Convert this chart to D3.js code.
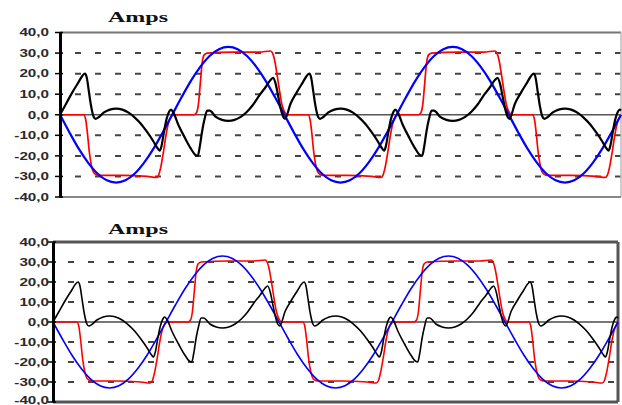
<!DOCTYPE html>
<html><head><meta charset="utf-8">
<script src="https://cdn.jsdelivr.net/npm/d3@7"></script>
<style>html,body{margin:0;padding:0;background:#fff;overflow:hidden}</style>
</head><body><svg id="c" width="622" height="405"></svg>
<script>
// ---- data (time in electrical degrees, current in amps) ----
const chartTitle = "Amps";
const yTicks = [40, 30, 20, 10, 0, -10, -20, -30, -40];
const tickLabels = ["40,0", "30,0", "20,0", "10,0", "0,0", "-10,0", "-20,0", "-30,0", "-40,0"];

const blueDeg = [0,15,30,45,60,75,90,105,120,135,150,165,180,195,210,225,240,255,270,285,300,315,330,345,
  360,375,390,405,420,435,450,465,480,495,510,525,540,555,570,585,600,615,630,645,660,675,690,705,
  720,735,750,765,780,795,810,825,840,855,870,885,900];
const blueAmps = [0,-8.5,-16.5,-23.3,-28.6,-31.9,-33,-31.9,-28.6,-23.3,-16.5,-8.5,0,8.5,16.5,23.3,28.6,31.9,33,31.9,28.6,23.3,16.5,8.5,
  0,-8.5,-16.5,-23.3,-28.6,-31.9,-33,-31.9,-28.6,-23.3,-16.5,-8.5,0,8.5,16.5,23.3,28.6,31.9,33,31.9,28.6,23.3,16.5,8.5,
  0,-8.5,-16.5,-23.3,-28.6,-31.9,-33,-31.9,-28.6,-23.3,-16.5,-8.5,0];

const redDeg = [0,38,41,44,47,50,53,57,62,100,140,155,158,162,166,170,174,178,183,215,219,222,225,228,231,236,280,320,338,341,344,348,352,356,360,365,
  398,401,404,407,410,413,417,422,460,500,515,518,522,526,530,534,538,543,575,579,582,585,588,591,596,640,680,698,701,704,708,712,716,720,725,
  758,761,764,767,770,773,777,782,820,860,875,878,882,886,890,894,898,900];
const redAmps = [0,0,-2,-9,-18,-24,-27.5,-29,-29.5,-29.5,-30,-30.5,-29.5,-25,-18,-10,-4,-1,0,0,1,5,15,25,29,30,30.5,30.5,31,30,27,20,12,5,1.5,0,
  0,-2,-9,-18,-24,-27.5,-29,-29.5,-29.5,-30,-30.5,-29.5,-25,-18,-10,-4,-1,0,0,1,5,15,25,29,30,30.5,30.5,31,30,27,20,12,5,1.5,0,
  0,-2,-9,-18,-24,-27.5,-29,-29.5,-29.5,-30,-30.5,-29.5,-25,-18,-10,-4,-1,0];

const blackDeg = [0,10,20,30,36,40,43,46,50,54,57,62,70,80,90,100,110,120,130,140,150,157,160,163,167,171,175,178,
  182,190,200,210,217,221,224,228,232,236,240,250,260,270,280,290,300,310,320,330,338,342,346,350,354,358,361,
  370,380,390,396,400,403,406,410,414,417,422,430,440,450,460,470,480,490,500,510,517,520,523,527,531,535,538,
  542,550,560,570,577,581,584,588,592,596,600,610,620,630,640,650,660,670,680,690,698,702,706,710,714,718,721,
  730,740,750,756,760,763,766,770,774,777,782,790,800,810,820,830,840,850,860,870,877,880,883,887,891,895,898,900];
const blackAmps = [0,5.5,11,16,19,20,18,12,4,-1,-2,-1.2,1,2.5,3,2.5,1,-1.4,-4.5,-8.5,-13,-16.5,-17.5,-15,-8,-2,1.5,2.5,
  1,-5,-11,-16.5,-19.5,-20,-16,-8,-2,2,2,-1,-2.5,-3,-2.5,-1,1.5,5,9.5,13.5,17,18,15,9,3,-1,-2,
  5.5,11,16,19,20,18,12,4,-1,-2,-1.2,1,2.5,3,2.5,1,-1.4,-4.5,-8.5,-13,-16.5,-17.5,-15,-8,-2,1.5,2.5,
  1,-5,-11,-16.5,-19.5,-20,-16,-8,-2,2,2,-1,-2.5,-3,-2.5,-1,1.5,5,9.5,13.5,17,18,15,9,3,-1,-2,
  5.5,11,16,19,20,18,12,4,-1,-2,-1.2,1,2.5,3,2.5,1,-1.4,-4.5,-8.5,-13,-16.5,-17.5,-15,-8,-2,1.5,2.5,2];

// ---- drawing ----
const svg = d3.select("#c");
const zip = (xs, ys) => xs.map((x, i) => [x, ys[i]]);
const series = [
  {pts: zip(redDeg, redAmps), color: "#ff0000"},
  {pts: zip(blueDeg, blueAmps), color: "#0000ff"},
  {pts: zip(blackDeg, blackAmps), color: "#000000"}
];

function drawChart(box, st) {
  const g = svg.append("g");
  const x = d3.scaleLinear().domain([0, 900]).range([box.left, box.right]);
  const y = d3.scaleLinear().domain([-40, 40]).range([box.bottom, box.top]);

  // dashed grid
  yTicks.filter(v => v !== 0 && Math.abs(v) !== 40).forEach(v => {
    g.append("line").attr("x1", box.left).attr("x2", box.right)
      .attr("y1", y(v)).attr("y2", y(v))
      .attr("stroke", "#444").attr("stroke-width", 2)
      .attr("stroke-dasharray", "6,14").attr("stroke-dashoffset", -15);
  });
  // zero line
  g.append("line").attr("x1", box.left).attr("x2", box.right)
    .attr("y1", y(0)).attr("y2", y(0)).attr("stroke", st.zeroColor).attr("stroke-width", st.zeroW);

  // frame
  g.append("line").attr("x1", box.left).attr("x2", box.right).attr("y1", y(40)).attr("y2", y(40))
    .attr("stroke", st.topColor).attr("stroke-width", st.topW);
  g.append("line").attr("x1", box.right).attr("x2", box.right).attr("y1", y(40)).attr("y2", y(-40))
    .attr("stroke", st.rightColor).attr("stroke-width", st.rightW);
  g.append("line").attr("x1", box.left).attr("x2", box.right).attr("y1", y(-40)).attr("y2", y(-40))
    .attr("stroke", st.botColor).attr("stroke-width", st.botW);

  // series
  const line = d3.line().x(d => x(d[0])).y(d => y(d[1])).curve(d3.curveMonotoneX);
  series.forEach(s => {
    g.append("path").attr("d", line(s.pts)).attr("fill", "none")
      .attr("stroke", s.color).attr("stroke-width", s.color === "#ff0000" ? st.redW : st.lineW)
      .attr("stroke-linejoin", "round");
  });

  // left axis
  const axis = d3.axisLeft(y).tickValues(yTicks).tickSize(0).tickFormat("");
  const ag = g.append("g").attr("transform", `translate(${box.left},0)`).call(axis);
  ag.select(".domain").attr("stroke", "#000").attr("stroke-width", 3);
  yTicks.forEach((v, i) => {
    g.append("line").attr("x1", box.left - 5).attr("x2", box.left + 3)
      .attr("y1", y(v)).attr("y2", y(v)).attr("stroke", "#000").attr("stroke-width", 1.5);
    const by = Math.min(y(v) + 3.8, 404);
    g.append("text").attr("transform", `translate(49,${by}) scale(1.45,1)`)
      .attr("text-anchor", "end")
      .attr("font-family", "'Liberation Sans', Arial, sans-serif").attr("font-weight", "bold")
      .attr("font-size", 10.5).attr("fill", "#2a2a2a").text(tickLabels[i]);
  });

  // title
  g.append("text").attr("x", 108).attr("y", st.titleY)
    .attr("font-family", "'Liberation Serif', 'Times New Roman', serif").attr("font-weight", "bold")
    .attr("font-size", 14).attr("fill", "#111")
    .attr("textLength", 60).attr("lengthAdjust", "spacingAndGlyphs").text(chartTitle);
}

drawChart({left: 60, right: 621, top: 32.5, bottom: 197},
  {zeroColor: "#555", zeroW: 1.5, topColor: "#777", topW: 2, rightColor: "#bbb", rightW: 1.5,
   botColor: "#888", botW: 2, lineW: 2.2, redW: 1.7, titleY: 22});
drawChart({left: 53, right: 618, top: 242, bottom: 402},
  {zeroColor: "#777", zeroW: 2, topColor: "#555", topW: 3, rightColor: "#555", rightW: 3,
   botColor: "#555", botW: 3, lineW: 1.6, redW: 1.6, titleY: 234});
</script>
</body></html>
